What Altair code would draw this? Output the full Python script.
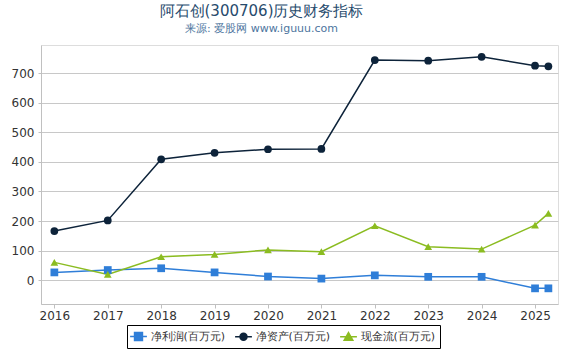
import altair as alt
import pandas as pd

years = [2016, 2017, 2018, 2019, 2020, 2021, 2022, 2023, 2024, 2025, 2025.25]
net_profit = [26, 34, 40, 26, 12, 5, 16, 11, 11, -28, -28]
net_assets = [166, 202, 409, 431, 443, 444, 745, 743, 756, 726, 724]
cash_flow = [60, 19, 79, 87, 102, 96, 184, 113, 105, 186, 226]
series_names = ["净利润(百万元)", "净资产(百万元)", "现金流(百万元)"]
series_colors = ["#2f7ed8", "#0d233a", "#8bbc21"]
point_shapes = ["square", "circle", "triangle-up"]
tick_years = [2016, 2017, 2018, 2019, 2020, 2021, 2022, 2023, 2024, 2025]
y_ticks = [0, 100, 200, 300, 400, 500, 600, 700]

rows = []
for name, vals in zip(series_names, [net_profit, net_assets, cash_flow]):
    for yr, v in zip(years, vals):
        rows.append({"year": yr, "series": name, "value": v})
df = pd.DataFrame(rows)

# legend glyphs: short line with the marker in the middle
legend_paths = [
    "M-1.4,0H1.4M-0.66,-0.66H0.66V0.66H-0.66Z",
    "M-1.4,0H1.4M0.58,0A0.58,0.58,0,1,1,-0.58,0A0.58,0.58,0,1,1,0.58,0Z",
    "M-1.4,0H1.4M0,-0.72L0.72,0.56H-0.72Z",
]

x_enc = alt.X(
    "year:Q",
    scale=alt.Scale(domain=[2015.75, 2025.43], nice=False, zero=False),
    axis=alt.Axis(
        values=tick_years, format="d", title=None, grid=False,
        domainColor="#c0c0c0", tickColor="#c0c0c0", tickSize=4,
        labelFontSize=12, labelColor="#333333", labelFont="DejaVu Sans",
        labelPadding=2, labelFlush=False,
    ),
)
y_enc = alt.Y(
    "value:Q",
    scale=alt.Scale(domain=[-81, 796], nice=False, zero=False),
    axis=alt.Axis(
        values=y_ticks, title=None, grid=True, gridColor="#c8c8c8",
        domainColor="#c0c0c0", tickColor="#c0c0c0", tickSize=3,
        labelFontSize=12, labelColor="#333333", labelFont="DejaVu Sans",
        labelPadding=4,
    ),
)

legend_props = dict(
    title=None, orient="none", legendX=86, legendY=280,
    direction="horizontal", strokeColor="#000000", fillColor="#ffffff",
    padding=4.5, symbolSize=144, symbolStrokeWidth=1.5,
    labelFontSize=11, labelColor="#333333", labelFont="DejaVu Sans",
    labelOffset=5, columnPadding=6,
)

lines = alt.Chart(df).mark_line(strokeWidth=1.5).encode(
    x=x_enc,
    y=y_enc,
    color=alt.Color("series:N", scale=alt.Scale(domain=series_names, range=series_colors), legend=None),
    order="year:Q",
)

points = alt.Chart(df).mark_point(filled=True, opacity=1, size=60).encode(
    x=x_enc,
    y=y_enc,
    color=alt.Color("series:N", scale=alt.Scale(domain=series_names, range=series_colors), legend=None),
    shape=alt.Shape(
        "series:N",
        scale=alt.Scale(domain=series_names, range=point_shapes),
        legend=None,
    ),
)

legend_layer = alt.Chart(df).transform_filter("false").mark_point(
    filled=False, opacity=1, strokeWidth=1.5
).encode(
    x=x_enc,
    y=y_enc,
    color=alt.Color("series:N", scale=alt.Scale(domain=series_names, range=series_colors),
                    legend=alt.Legend(**legend_props)),
    fill=alt.Fill("series:N", scale=alt.Scale(domain=series_names, range=series_colors),
                  legend=alt.Legend(**legend_props)),
    shape=alt.Shape("series:N", scale=alt.Scale(domain=series_names, range=legend_paths),
                    legend=alt.Legend(**legend_props)),
)

chart = alt.layer(lines, points, legend_layer).resolve_scale(
    color="independent", shape="independent", fill="independent"
).properties(
    width=517,
    height=259,
    autosize=alt.AutoSizeParams(type="none"),
    padding={"left": 41, "top": 45, "right": 12, "bottom": 46},
    title=alt.TitleParams(
        text="阿石创(300706)历史财务指标",
        subtitle="来源: 爱股网 www.iguuu.com",
        anchor="middle", dx=-38, offset=11,
        font="DejaVu Sans", fontSize=15, fontWeight="normal", color="#274b6d",
        subtitleFont="DejaVu Sans", subtitleFontSize=11, subtitleColor="#4d759e",
        subtitlePadding=4,
    ),
).configure_view(stroke=None).configure(background="#ffffff")

chart.save("out.html", embed_options={"renderer": "svg", "actions": False})
